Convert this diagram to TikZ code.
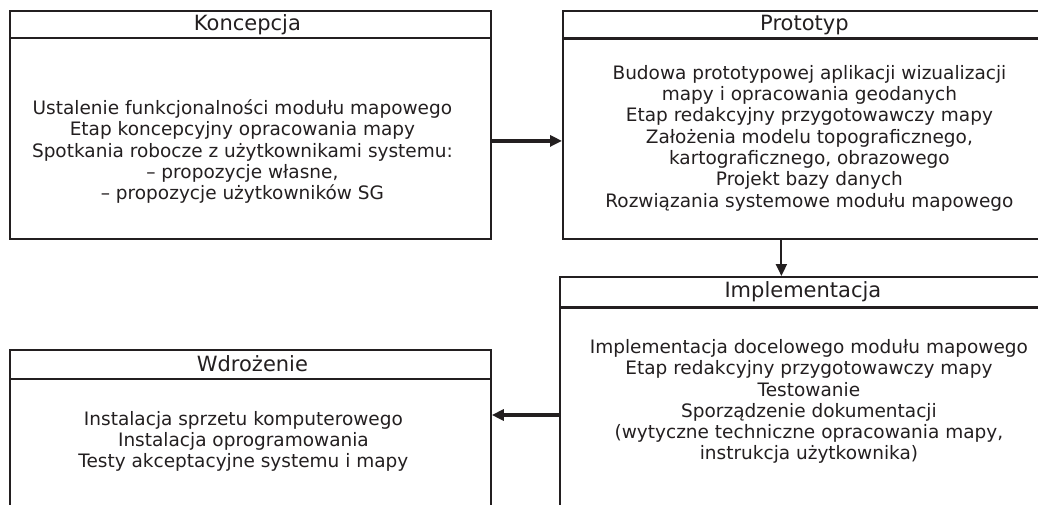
\documentclass[tikz,border=0pt]{standalone}
\usepackage{fontspec}
\setmainfont{DejaVu Sans}
\usetikzlibrary{arrows.meta,calc}
\definecolor{ink}{HTML}{231F20}
\begin{document}
\begin{tikzpicture}[x=1pt,y=-1pt,
  box/.style={draw=ink, line width=1.8pt, anchor=north west, inner sep=0pt, rectangle},
  hdr/.style={draw=ink, line width=3pt},
  ttl/.style={font=\fontsize{21}{24}\selectfont, text=ink, inner sep=0pt},
  body/.style={font=\fontsize{18.5}{21.3}\selectfont, text=ink, align=center, inner sep=0pt},
  thick arrow/.style={draw=ink, line width=3.5pt, -{Triangle[length=12pt,width=11pt]}},
  thin arrow/.style={draw=ink, line width=2pt, -{Triangle[length=12pt,width=11pt]}}]
\useasboundingbox (0,0) rectangle (1038,504);
\clip (0,0) rectangle (1038,504);
% boxes
\node[box, minimum width=481pt, minimum height=228pt] (k) at (9,10) {};
\node[box, minimum width=483pt, minimum height=228pt] (p) at (562,10) {};
\node[box, minimum width=486pt, minimum height=260pt] (i) at (559,276) {};
\node[box, minimum width=481pt, minimum height=190pt] (w) at (9,349) {};
% header lines
\draw[hdr, line width=2.5pt] ([yshift=-28pt]k.north west) -- ([yshift=-28pt]k.north east);
\draw[hdr] ([yshift=-28pt]p.north west) -- ([yshift=-28pt]p.north east);
\draw[hdr] ([yshift=-31pt]i.north west) -- ([yshift=-31pt]i.north east);
\draw[hdr, line width=1.8pt] ([yshift=-30pt]w.north west) -- ([yshift=-30pt]w.north east);
% titles
\node[ttl] (kt) at ([xshift=-3pt,yshift=-15pt]k.north) {Koncepcja};
\node[ttl] (pt) at ([yshift=-15pt]p.north) {Prototyp};
\node[ttl] (it) at ([yshift=-16pt]i.north) {Implementacja};
\node[ttl] (wt) at ([xshift=2pt,yshift=-15pt]w.north) {Wdrożenie};
% bodies
\node[body] (kb) at ([xshift=-8pt,yshift=-141.5pt]k.north) {Ustalenie funkcjonalności modułu mapowego\\Etap koncepcyjny opracowania mapy\\Spotkania robocze z użytkownikami systemu:\\– propozycje własne,\\– propozycje użytkowników SG};
\node[body] (pb) at ([xshift=5pt,yshift=-128pt]p.north) {Budowa prototypowej aplikacji wizualizacji\\mapy i opracowania geodanych\\Etap redakcyjny przygotowawczy mapy\\Założenia modelu topograficznego,\\kartograficznego, obrazowego\\Projekt bazy danych\\Rozwiązania systemowe modułu mapowego};
\node[body, font=\fontsize{18.5}{21.2}\selectfont] (ib) at ([xshift=6pt,yshift=-125.5pt]i.north) {Implementacja docelowego modułu mapowego\\Etap redakcyjny przygotowawczy mapy\\Testowanie\\Sporządzenie dokumentacji\\(wytyczne techniczne opracowania mapy,\\instrukcja użytkownika)};
\node[body] (wb) at ([xshift=-7pt,yshift=-92.5pt]w.north) {Instalacja sprzetu komputerowego\\Instalacja oprogramowania\\Testy akceptacyjne systemu i mapy};
% connectors
\draw[thick arrow] ([yshift=-16pt]k.east) -- ([yshift=-16pt]p.west);
\draw[thin arrow] ([xshift=-23pt]p.south) -- ([xshift=-23pt]p.south |- i.north);
\draw[thick arrow] ([yshift=-139pt]i.north west) -- ([yshift=-139pt]i.north west -| w.east);
\end{tikzpicture}
\end{document}
